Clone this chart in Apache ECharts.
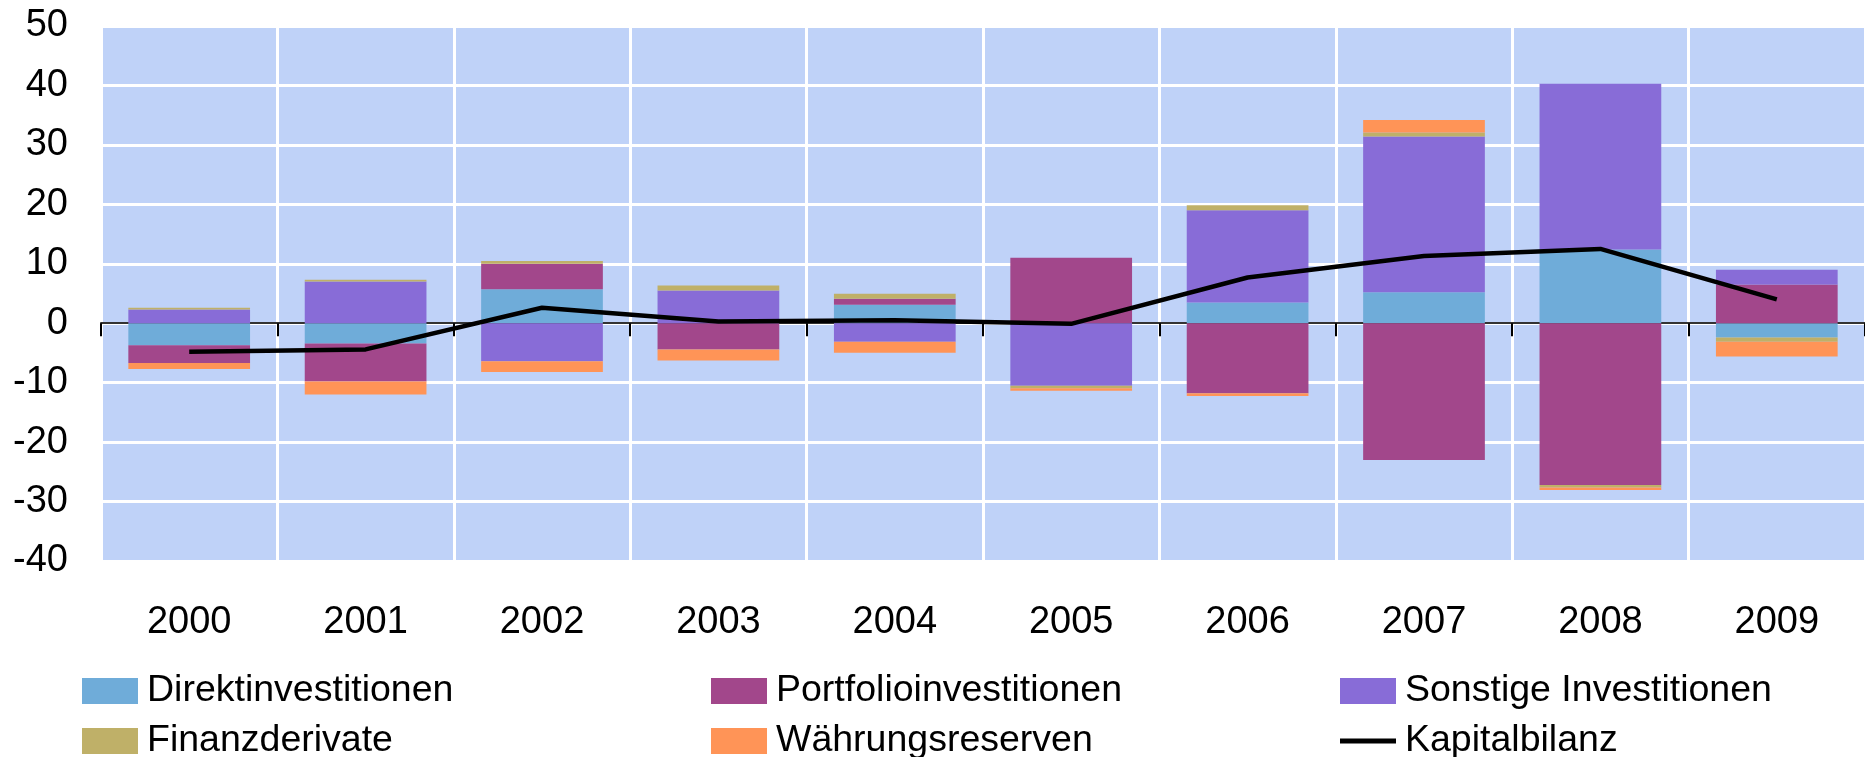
<!DOCTYPE html>
<html>
<head>
<meta charset="utf-8">
<script src="https://cdn.jsdelivr.net/npm/echarts@6/dist/echarts.min.js"></script>
<style>
  html, body { margin: 0; padding: 0; background: #fff; }
  #chart { width: 1865px; height: 757px; }
</style>
</head>
<body>
<div id="chart"></div>
<script>
const years = ['2000', '2001', '2002', '2003', '2004', '2005', '2006', '2007', '2008', '2009'];

const direkt = [-3.7, -3.4, 5.7, 0, 3.1, 0, 3.5, 5.2, 12.4, -2.4];
const portfolio = [-3.0, -6.4, 4.3, -4.4, 1.0, 11.0, -11.8, -23.0, -27.2, 6.5];
const sonstige = [2.3, 7.0, -6.4, 5.5, -3.1, -10.5, 15.5, 26.2, 27.9, 2.5];
const derivate = [0.3, 0.3, 0.45, 0.85, 0.85, -0.45, 0.85, 0.7, -0.45, -0.7];
const reserven = [-1.0, -2.2, -1.8, -1.85, -1.85, -0.4, -0.45, 2.1, -0.4, -2.5];
const kapitalbilanz = [-4.8, -4.4, 2.6, 0.3, 0.5, -0.1, 7.7, 11.3, 12.5, 4.0];

const font = "'Liberation Sans', Arial, sans-serif";

const chart = echarts.init(document.getElementById('chart'));

const barSeries = (name, data, color) => ({
  name: name,
  type: 'bar',
  stack: 'total',
  data: data,
  barWidth: '69%',
  itemStyle: { color: color },
  emphasis: { disabled: true }
});

// one legend per item so the columns line up like the original
const legendItem = (name, left, top, iconHeight) => ({
  data: [{ name: name, icon: 'rect' }],
  left: left,
  top: top,
  itemWidth: 56,
  itemHeight: iconHeight || 26,
  itemGap: 0,
  padding: 0,
  selectedMode: false,
  textStyle: { fontFamily: font, fontSize: 37.5, color: '#000', padding: [0, 0, 0, 4] }
});

chart.setOption({
  animation: false,
  grid: {
    left: 101, right: 0, top: 26, bottom: 196,
    show: true, backgroundColor: '#BFD2F8', borderWidth: 0
  },
  legend: [
    legendItem('Direktinvestitionen', 82, 672),
    legendItem('Finanzderivate', 82, 722),
    legendItem('Portfolioinvestitionen', 711, 672),
    legendItem('Währungsreserven', 711, 722),
    legendItem('Sonstige Investitionen', 1340, 672),
    legendItem('Kapitalbilanz', 1340, 722, 5)
  ],
  xAxis: [
    {
      type: 'category',
      data: years,
      position: 'bottom',
      axisLine: { show: false, onZero: false },
      axisTick: { show: false },
      axisLabel: { fontFamily: font, fontSize: 38, color: '#000', margin: 43 },
      splitLine: { show: true, lineStyle: { color: '#fff', width: 3 } }
    },
    {
      type: 'category',
      data: years,
      position: 'top',
      axisLine: { show: true, onZero: true, lineStyle: { color: '#333', width: 2 } },
      axisTick: { show: true, inside: true, length: 13, lineStyle: { color: '#000', width: 2 } },
      axisLabel: { show: false },
      splitLine: { show: false }
    }
  ],
  yAxis: {
    type: 'value',
    min: -40, max: 50, interval: 10,
    axisLine: { show: false },
    axisTick: { show: false },
    axisLabel: { fontFamily: font, fontSize: 38, color: '#000', margin: 33 },
    splitLine: { show: true, lineStyle: { color: '#fff', width: 3 } }
  },
  series: [
    barSeries('Direktinvestitionen', direkt, '#6FACD9'),
    barSeries('Portfolioinvestitionen', portfolio, '#A2478B'),
    barSeries('Sonstige Investitionen', sonstige, '#886CD7'),
    barSeries('Finanzderivate', derivate, '#BFB068'),
    barSeries('Währungsreserven', reserven, '#FF9457'),
    {
      name: 'Kapitalbilanz',
      type: 'line',
      data: kapitalbilanz,
      symbol: 'none',
      z: 5,
      itemStyle: { color: '#000' },
      lineStyle: { color: '#000', width: 4.5 },
      emphasis: { disabled: true }
    }
  ]
});
</script>
</body>
</html>
